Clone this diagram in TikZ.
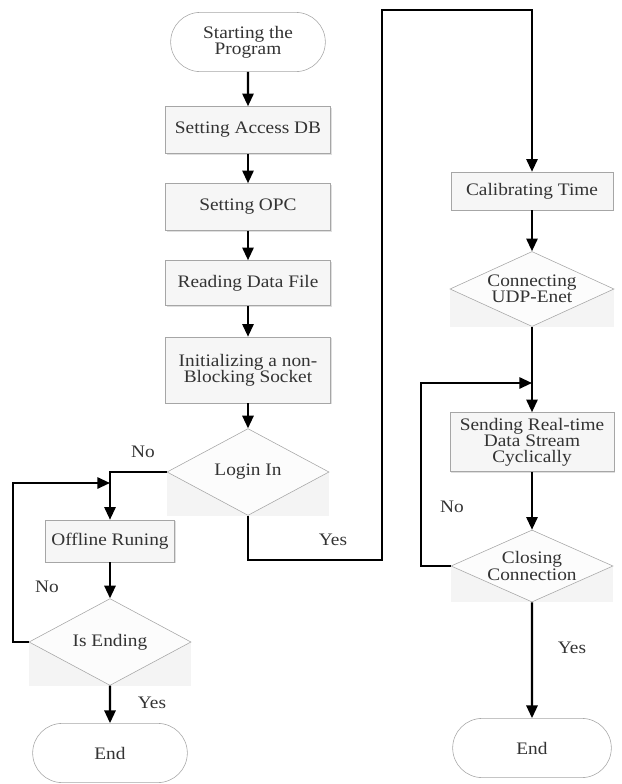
\documentclass[tikz,border=0pt]{standalone}
\usepackage{fontspec}
\setmainfont[FakeStretch=1.1]{Liberation Serif}
\usetikzlibrary{shapes.geometric,shapes.misc,arrows.meta,shadows,backgrounds}

\tikzset{
    txt/.style={font=\fontsize{12.5}{11.5}\selectfont, text=black!80},
    proc/.style={txt, rectangle, draw=gray!70, fill=gray!7, align=center, inner sep=1pt,
        drop shadow={opacity=0.25, shadow xshift=1pt, shadow yshift=-1pt},
        minimum width=4.125cm, minimum height=1.175cm},
    term/.style={txt, rounded rectangle, draw=gray!70, fill=white, align=center,
        minimum width=4.1cm, minimum height=1.48cm},
    decide/.style={txt, diamond, draw=gray!70, fill=gray!2, align=center, inner sep=0pt,
        shape aspect=2.2, minimum width=4.05cm, minimum height=2.17cm},
    flow/.style={->, >={Triangle[length=9pt,width=8pt]}, line width=1.5pt},
    tag/.style={txt}
}

\begin{document}
\begin{tikzpicture}[x=0.025cm, y=-0.025cm]
    \useasboundingbox (0,0) rectangle (621,784);
    % left column
    \node[term] (start) at (248,42) {Starting the\\Program};
    \node[proc] (access) at (248,130) {Setting Access DB};
    \node[proc] (opc) at (248,207) {Setting OPC};
    \node[proc, minimum height=1.125cm] (reading) at (248,283) {Reading Data File};
    \node[proc, minimum height=1.65cm] (init) at (248,370) {Initializing a non-\\Blocking Socket};
    \node[decide] (login) at (248,472) {Login In};
    \node[proc, minimum width=3.225cm, minimum height=1.05cm] (offline) at (110,541) {Offline Runing};
    \node[decide] (ending) at (110,642) {Is Ending};
    \node[term] (endL) at (110,753) {End};
    % right column
    \node[proc, minimum width=4.05cm, minimum height=0.95cm] (calib) at (532,191) {Calibrating Time};
    \node[decide, minimum width=4.1cm, minimum height=1.875cm] (connect) at (532,289) {Connecting\\UDP-Enet};
    \node[proc, minimum width=4.1cm, minimum height=1.475cm] (send) at (532,442) {Sending Real-time\\Data Stream\\Cyclically};
    \node[decide, minimum width=4.05cm, minimum height=1.8cm] (closing) at (532,566) {Closing\\Connection};
    \node[term, minimum width=4.2cm] (endR) at (532,748) {End};

    % shadows under the diamonds
    \begin{scope}[on background layer]
        \fill[gray!9] (login.west) rectangle (login.south -| login.east);
        \fill[gray!9] (ending.west) rectangle (ending.south -| ending.east);
        \fill[gray!9] (connect.west) rectangle (connect.south -| connect.east);
        \fill[gray!9] (closing.west) rectangle (closing.south -| closing.east);
    \end{scope}

    \coordinate (mergeL) at (110,483);
    \coordinate (yesA) at (382,560);
    \coordinate (yesB) at (382,10);
    \coordinate (mergeR) at (532,383);

    \draw[flow] (start) -- (access);
    \draw[flow] (access) -- (opc);
    \draw[flow] (opc) -- (reading);
    \draw[flow] (reading) -- (init);
    \draw[flow] (init) -- (login);
    \draw[flow] (login.west) -| (offline.north);
    \draw[flow] (offline) -- (ending);
    \draw[flow] (ending) -- (endL);
    \draw[flow] (ending.west) -- ++(-16,0) |- (mergeL);
    \draw[flow] (login.south) |- (yesA) -- (yesB) -| (calib.north);
    \draw[flow] (calib) -- (connect);
    \draw[flow] (connect) -- (send);
    \draw[flow] (send) -- (closing);
    \draw[flow] (closing) -- (endR);
    \draw[flow] (closing.west) -- ++(-30,0) |- (mergeR);

    \node[tag] (noLogin) at (143,452) {No};
    \node[tag] (noEnd) at (47,587) {No};
    \node[tag] (yesEnd) at (152,703) {Yes};
    \node[tag] (yesLogin) at (333,540) {Yes};
    \node[tag] (noClose) at (452,507) {No};
    \node[tag] (yesClose) at (572,648) {Yes};
\end{tikzpicture}
\end{document}
